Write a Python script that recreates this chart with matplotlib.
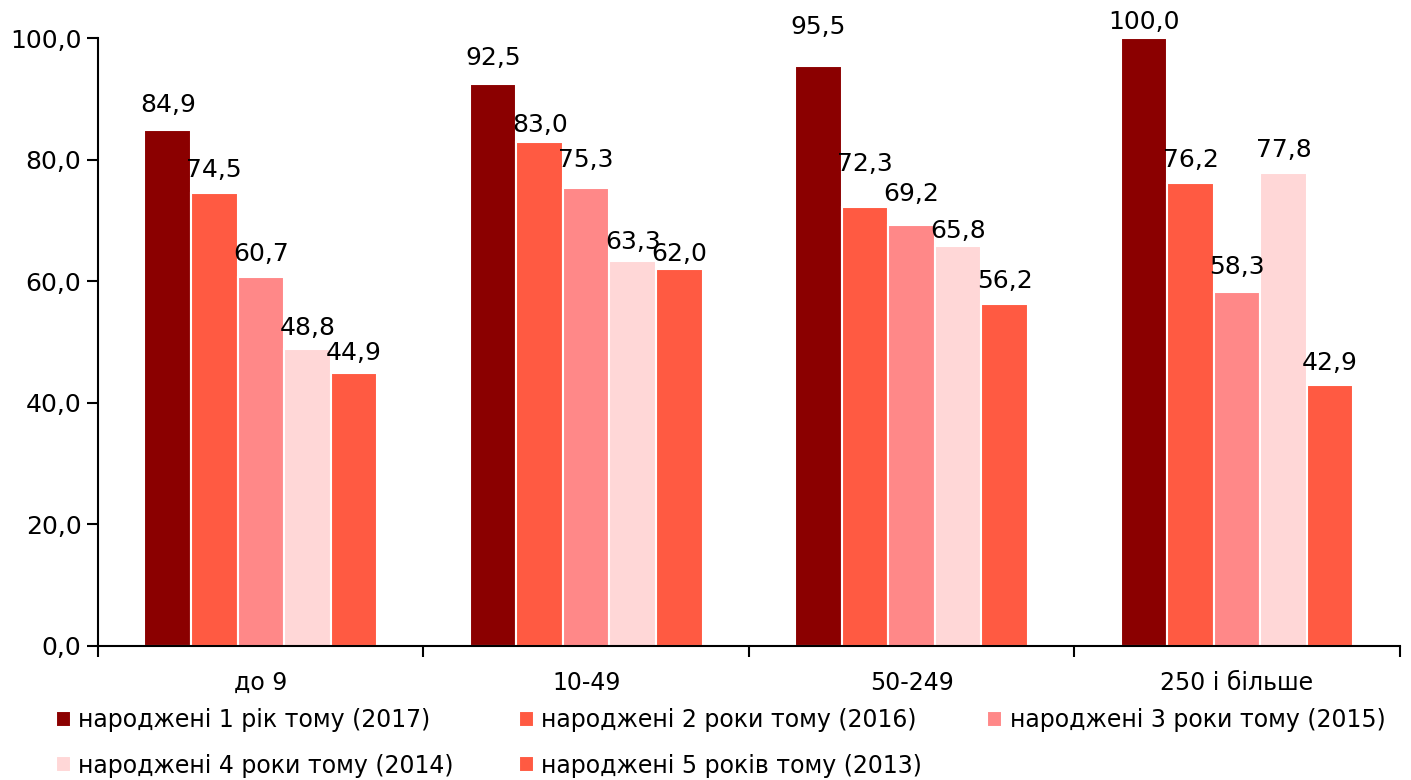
import numpy as np
import matplotlib.pyplot as plt
import matplotlib
matplotlib.rcParams["font.family"] = ["DejaVu Sans"]

categories = ["до 9", "10-49", "50-249", "250 і більше"]
series_names = [
    "народжені 1 рік тому (2017)",
    "народжені 2 роки тому (2016)",
    "народжені 3 роки тому (2015)",
    "народжені 4 роки тому (2014)",
    "народжені 5 років тому (2013)",
]
values = [
    [84.9, 92.5, 95.5, 100.0],
    [74.5, 83.0, 72.3, 76.2],
    [60.7, 75.3, 69.2, 58.3],
    [48.8, 63.3, 65.8, 77.8],
    [44.9, 62.0, 56.2, 42.9],
]
colors = ["#8B0000", "#FF5A42", "#FF8888", "#FFD7D7", "#FF5A42"]

# label offsets above bar tops (points), as placed in the original
label_dy = [
    [9.0, 9.6, 19.0, 3.1],
    [8.1, 3.1, 21.8, 8.1],
    [8.1, 11.7, 13.9, 8.9],
    [6.7, 5.3, 2.4, 8.1],
    [6.0, 2.4, 8.1, 7.4],
]

fs = 17
fs_num = 18

fig = plt.figure(figsize=(14.11, 7.8), dpi=100)
ax = fig.add_axes([0.0695, 0.172, 0.9225, 0.779])

x = np.arange(len(categories))
width = 0.143
handles = []
for i, (name, vals, col) in enumerate(zip(series_names, values, colors)):
    pos = x + (i - 2) * width
    bars = ax.bar(pos, vals, width, color=col, edgecolor="white", linewidth=1.5, label=name)
    handles.append(bars)
    for j, (b, v) in enumerate(zip(bars, vals)):
        ax.annotate(f"{v:.1f}".replace(".", ","),
                    (b.get_x() + b.get_width() / 2, v),
                    xytext=(0, label_dy[i][j]), textcoords="offset points",
                    ha="center", va="bottom", fontsize=fs_num)

ax.set_xlim(-0.5, len(categories) - 0.5)
ax.set_ylim(0, 100)
ax.set_yticks(np.arange(0, 101, 20))
ax.set_yticklabels([f"{t:.1f}".replace(".", ",") for t in np.arange(0, 101, 20)], fontsize=fs_num)
ax.set_xticks(np.arange(-0.5, len(categories), 1.0))
ax.set_xticklabels([])
ax.set_xticks(x, minor=True)
ax.set_xticklabels(categories, minor=True, fontsize=fs)
ax.tick_params(axis="x", which="minor", length=0, pad=18)
ax.tick_params(axis="x", which="major", length=8, width=1.5)
ax.tick_params(axis="y", length=8, width=1.5, pad=4)
for s in ["top", "right"]:
    ax.spines[s].set_visible(False)
for s in ["left", "bottom"]:
    ax.spines[s].set_linewidth(1.5)

# legend reads row by row
order = [0, 3, 1, 4, 2]
fig.legend([handles[k] for k in order], [series_names[k] for k in order],
           loc="upper left", bbox_to_anchor=(0.033, 0.104), ncol=3, frameon=False,
           fontsize=fs, handlelength=0.65, handleheight=0.65, handletextpad=0.3,
           columnspacing=2.75, labelspacing=0.9, borderaxespad=0)

fig.savefig("out.png", dpi=100)
